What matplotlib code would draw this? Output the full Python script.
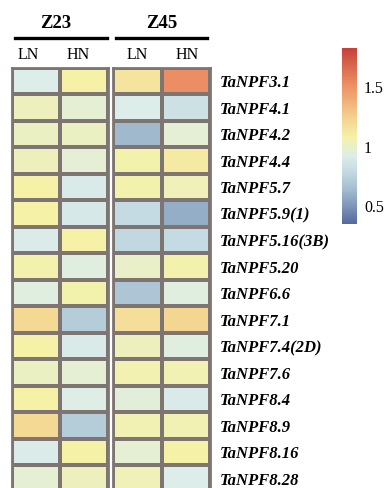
import numpy as np
import matplotlib
matplotlib.use("Agg")
import matplotlib.pyplot as plt
from matplotlib.colors import LinearSegmentedColormap, Normalize

plt.rcParams["font.family"] = ["Liberation Serif", "DejaVu Serif"]

# ── data ────────────────────────────────────────────────────────────────────
GENES = ["TaNPF3.1", "TaNPF4.1", "TaNPF4.2", "TaNPF4.4", "TaNPF5.7",
         "TaNPF5.9(1)", "TaNPF5.16(3B)", "TaNPF5.20", "TaNPF6.6", "TaNPF7.1",
         "TaNPF7.4(2D)", "TaNPF7.6", "TaNPF8.4", "TaNPF8.9", "TaNPF8.16",
         "TaNPF8.28"]
CONDITIONS = ["LN", "HN"]
GROUPS = ["Z23", "Z45"]

Z23_LN = [0.92, 1.03, 1.02, 1.03, 1.08, 1.08, 0.91, 1.07, 0.95, 1.20,
          1.08, 1.02, 1.08, 1.20, 0.91, 0.98]
Z23_HN = [1.08, 0.98, 1.02, 0.97, 0.90, 0.89, 1.08, 0.95, 1.07, 0.72,
          0.90, 0.98, 0.93, 0.72, 1.08, 1.03]
Z45_LN = [1.15, 0.92, 0.63, 1.07, 1.07, 0.80, 0.78, 1.00, 0.68, 1.18,
          1.03, 1.06, 0.96, 1.05, 0.98, 1.04]
Z45_HN = [1.52, 0.84, 0.97, 1.12, 1.04, 0.59, 0.80, 1.07, 0.95, 1.22,
          0.95, 1.05, 0.90, 1.05, 1.08, 0.92]

CBAR_TICKS = [0.5, 1.0, 1.5]
CBAR_LABELS = ["0.5", "1", "1.5"]

# ── style ───────────────────────────────────────────────────────────────────
VMIN, VMAX = 0.35, 1.83
anchors = [(0.35, "#56699c"), (0.50, "#7d96bb"), (0.65, "#a6bfd0"),
           (0.80, "#c6dce3"), (0.92, "#dcedea"), (1.08, "#f5f2a8"),
           (1.25, "#f3d08e"), (1.50, "#ef9466"), (1.83, "#c6413a")]
CMAP = LinearSegmentedColormap.from_list(
    "faded_rdylbu", [((v - VMIN) / (VMAX - VMIN), c) for v, c in anchors])
NORM = Normalize(VMIN, VMAX)
GRID = "#7e7572"

W, H = 388, 488
fig = plt.figure(figsize=(W / 100, H / 100), dpi=100)


def fx(x):
    return x / W


def fy(y):
    return 1 - y / H


ROW_H = 26.5
TOP = 68
n = len(GENES)
bottom = TOP + n * ROW_H


def draw_block(x0, x1, ln, hn):
    ax = fig.add_axes([fx(x0), fy(bottom), fx(x1 - x0), (bottom - TOP) / H])
    mat = np.column_stack([ln, hn])
    mesh = ax.pcolormesh(mat, cmap=CMAP, norm=NORM,
                         edgecolors=GRID, linewidth=1.5)
    ax.set_xlim(0, 2)
    ax.set_ylim(n, 0)
    ax.set_xticks([])
    ax.set_yticks([])
    for s in ax.spines.values():
        s.set_color(GRID)
        s.set_linewidth(2.0)
    return ax, mesh


ax1, mesh = draw_block(12, 108, Z23_LN, Z23_HN)
ax2, _ = draw_block(113, 210, Z45_LN, Z45_HN)

# gene labels on the right
ax2.yaxis.tick_right()
ax2.set_yticks(np.arange(n) + 0.5)
ax2.set_yticklabels(GENES, fontsize=12, fontweight="bold", style="italic")
ax2.tick_params(axis="y", length=0, pad=7)

# group headers + underline
for name, xa, xb, xc in [("Z23", 15, 107, 56), ("Z45", 116, 207, 162)]:
    fig.text(fx(xc), fy(24), name, ha="center", va="center",
             fontsize=13.5, fontweight="bold")
    fig.add_artist(plt.Line2D([fx(xa), fx(xb)], [fy(38), fy(38)],
                              color="black", linewidth=2.4))

# condition labels
for x, lab in [(28, "LN"), (78, "HN"), (137, "LN"), (187, "HN")]:
    fig.text(fx(x), fy(55), lab, ha="center", va="center", fontsize=11.5)

# colorbar
cax = fig.add_axes([fx(342), fy(224), fx(15), 176 / H])
cb = fig.colorbar(mesh, cax=cax, ticks=CBAR_TICKS)
cb.ax.set_yticklabels(CBAR_LABELS, fontsize=11.5)
cb.ax.tick_params(length=0, pad=5)
cb.outline.set_visible(False)

fig.savefig("out.png", dpi=100)
